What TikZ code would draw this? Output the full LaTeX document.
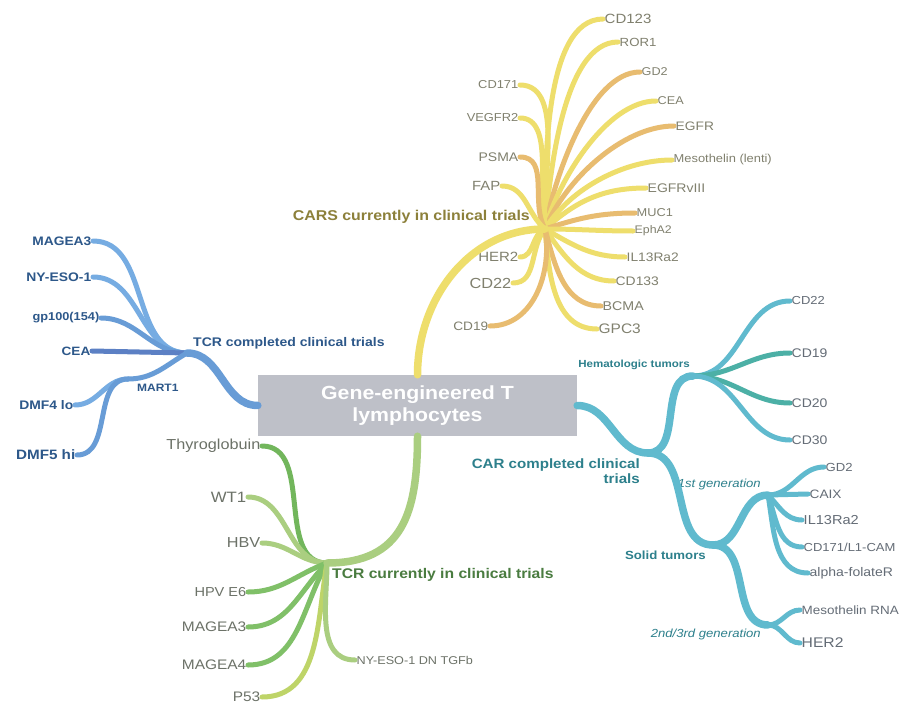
\documentclass[tikz,border=0pt]{standalone}
\usepackage{fontspec}
\setmainfont{Liberation Sans}[FakeStretch=1.12]
\definecolor{yl}{RGB}{238,222,108}
\definecolor{yo}{RGB}{232,188,112}
\definecolor{ytx}{RGB}{128,128,110}
\definecolor{ylab}{RGB}{140,128,58}
\definecolor{bl1}{RGB}{118,172,226}
\definecolor{bl2}{RGB}{104,156,214}
\definecolor{bl3}{RGB}{92,128,196}
\definecolor{btx}{RGB}{45,88,138}
\definecolor{tl}{RGB}{96,186,206}
\definecolor{tg}{RGB}{76,176,166}
\definecolor{tlab}{RGB}{45,128,140}
\definecolor{ttx}{RGB}{100,108,118}
\definecolor{gd}{RGB}{114,182,92}
\definecolor{gm}{RGB}{128,192,104}
\definecolor{gl}{RGB}{170,206,128}
\definecolor{gy}{RGB}{190,212,104}
\definecolor{glab}{RGB}{74,124,64}
\definecolor{gtx}{RGB}{108,114,104}
\definecolor{boxc}{RGB}{190,192,200}
\tikzset{
  fs/.style={font=\fontsize{#1}{#1}\selectfont},
  br/.style={line width=5pt, line cap=round},
  trunk/.style={line width=7.5pt, line cap=round},
  leafL/.style={inner sep=1.5pt, anchor=east},
  leafR/.style={inner sep=1.5pt, anchor=west},
  hubl/.style={inner sep=1pt, font=\bfseries},
}
\begin{document}
\begin{tikzpicture}[x=1pt,y=-1pt]
\useasboundingbox (0,0) rectangle (899,706);
\clip (0,0) rectangle (899,706);
\fill[white] (0,0) rectangle (899,706);

% hubs
\coordinate (yh) at (545,229);
\coordinate (bh) at (187,353);
\coordinate (mh) at (128,379);
\coordinate (gh) at (327,563);
\coordinate (th) at (648,453);
\coordinate (hh) at (693,376);
\coordinate (sh) at (713,545);
\coordinate (fh) at (768,495);
\coordinate (nh) at (768,625);

% center box
\node[fill=boxc, minimum width=319pt, minimum height=61pt, align=center,
      text=white, font=\fontsize{19}{22}\selectfont\bfseries] (center) at (417.5,405.5)
      {Gene-engineered T\\lymphocytes};

% ---------------- yellow: CARS currently ----------------
\begin{scope}[text=ytx]
\node[leafR,fs=13.4] (cd123) at (603,19) {CD123};
\node[leafR,fs=11.8] (ror1) at (618,42) {ROR1};
\node[leafR,fs=11.3] (gd2y) at (640,72) {GD2};
\node[leafR,fs=11.3] (ceay) at (656,101) {CEA};
\node[leafR,fs=12.3] (egfr) at (674,126) {EGFR};
\node[leafR,fs=11.5] (meso) at (672,160) {Mesothelin (lenti)};
\node[leafR,fs=12.5] (egfrv) at (646,188) {EGFRvIII};
\node[leafR,fs=11.4] (muc1) at (635,213) {MUC1};
\node[leafR,fs=11] (epha2) at (633,231) {EphA2};
\node[leafR,fs=12.3] (il13y) at (625,257) {IL13Ra2};
\node[leafR,fs=12.4] (cd133) at (614,281) {CD133};
\node[leafR,fs=12.7] (bcma) at (601,306) {BCMA};
\node[leafR,fs=13.8] (gpc3) at (597,329) {GPC3};
\node[leafL,fs=11.5] (cd171) at (520,85) {CD171};
\node[leafL,fs=11.5] (vegfr) at (520,118) {VEGFR2};
\node[leafL,fs=12.5] (psma) at (520,157) {PSMA};
\node[leafL,fs=13.3] (fap) at (502,186) {FAP};
\node[leafL,fs=13.4] (her2y) at (520,257) {HER2};
\node[leafL,fs=14.6] (cd22y) at (513,283) {CD22};
\node[leafL,fs=12.2] (cd19y) at (490,326) {CD19};
\end{scope}
\node[hubl, anchor=east, text=ylab, fs=14.2] at (531,217) {\bfseries CARS currently in clinical trials};

\draw[br,yl] (yh) to[out=90,in=180,looseness=0.7] (cd123.west);
\draw[br,yl] (yh) to[out=85,in=180,looseness=0.7] (ror1.west);
\draw[br,yo] (yh) to[out=80,in=180,looseness=0.7] (gd2y.west);
\draw[br,yl] (yh) to[out=75,in=180,looseness=0.75] (ceay.west);
\draw[br,yo] (yh) to[out=68,in=180,looseness=0.8] (egfr.west);
\draw[br,yl] (yh) to[out=58,in=180,looseness=0.85] (meso.west);
\draw[br,yl] (yh) to[out=42,in=180] (egfrv.west);
\draw[br,yo] (yh) to[out=18,in=180] (muc1.west);
\draw[br,yl] (yh) to[out=0,in=180] (epha2.west);
\draw[br,yl] (yh) to[out=-30,in=180] (il13y.west);
\draw[br,yl] (yh) to[out=-55,in=180] (cd133.west);
\draw[br,yo] (yh) to[out=-75,in=180] (bcma.west);
\draw[br,yl] (yh) to[out=-85,in=180] (gpc3.west);
\draw[br,yl] (yh) to[out=95,in=0,looseness=0.8] (cd171.east);
\draw[br,yl] (yh) to[out=105,in=0,looseness=0.8] (vegfr.east);
\draw[br,yo] (yh) to[out=120,in=0] (psma.east);
\draw[br,yl] (yh) to[out=140,in=0] (fap.east);
\draw[br,yl] (yh) to[out=200,in=0] (her2y.east);
\draw[br,yl] (yh) to[out=230,in=0] (cd22y.east);
\draw[br,yo] (yh) to[out=-80,in=0] (cd19y.east);
\draw[trunk,yl] (center.north) to[out=90,in=180] (yh);

% ---------------- blue: TCR completed ----------------
\begin{scope}[text=btx, font=\bfseries]
\node[leafL,fs=12.3] (mageab) at (93,241) {\bfseries MAGEA3};
\node[leafL,fs=12.4] (nyeso) at (93,277) {\bfseries NY-ESO-1};
\node[leafL,fs=11.4] (gp100) at (101,318) {\bfseries gp100(154)};
\node[leafL,fs=12.1] (ceab) at (92,351) {\bfseries CEA};
\node[leafL,fs=12.4] (dmf4) at (75,405) {\bfseries DMF4 lo};
\node[leafL,fs=13.6] (dmf5) at (77,455) {\bfseries DMF5 hi};
\end{scope}
\node[hubl, anchor=west, text=btx, fs=12.5] at (192,343) {\bfseries TCR completed clinical trials};
\node[hubl, anchor=west, text=btx, fs=10.7] at (136,388) {\bfseries MART1};

\draw[br,bl1] (bh) to[out=180,in=0] (mageab.east);
\draw[br,bl1] (bh) to[out=180,in=0] (nyeso.east);
\draw[br,bl2] (bh) to[out=180,in=0] (gp100.east);
\draw[br,bl3] (bh) -- (ceab.east);
\draw[br,bl2] (bh) to[out=210,in=0] (mh);
\draw[br,bl1] (mh) to[out=180,in=0] (dmf4.east);
\draw[br,bl2] (mh) to[out=180,in=0] (dmf5.east);
\draw[trunk,bl2] (center.west) to[out=180,in=0] (bh);

% ---------------- green: TCR currently ----------------
\begin{scope}[text=gtx]
\node[leafL,fs=14.5] (thyro) at (262,446) {Thyroglobuin};
\node[leafL,fs=15] (wt1) at (248,497) {WT1};
\node[leafL,fs=14.5] (hbv) at (262,543) {HBV};
\node[leafL,fs=13] (hpv) at (248,592) {HPV E6};
\node[leafL,fs=13.8] (mag3) at (248,627) {MAGEA3};
\node[leafL,fs=13.8] (mag4) at (248,665) {MAGEA4};
\node[leafL,fs=13.8] (p53) at (262,697) {P53};
\node[leafR,fs=11.3] (nytgf) at (355,660) {NY-ESO-1 DN TGFb};
\end{scope}
\node[hubl, anchor=west, text=glab, fs=14] at (331,575) {\bfseries TCR currently in clinical trials};

\draw[br,gd] (gh) to[out=180,in=0] (thyro.east);
\draw[br,gl] (gh) to[out=180,in=0] (wt1.east);
\draw[br,gl] (gh) to[out=180,in=0] (hbv.east);
\draw[br,gm] (gh) to[out=200,in=0] (hpv.east);
\draw[br,gm] (gh) to[out=225,in=0] (mag3.east);
\draw[br,gm] (gh) to[out=240,in=0] (mag4.east);
\draw[br,gy] (gh) to[out=-100,in=0] (p53.east);
\draw[br,gl] (gh) to[out=-90,in=180] (nytgf.west);
\draw[trunk,gl] (center.south) to[out=-90,in=0,looseness=1.25] (gh);

% ---------------- teal: CAR completed ----------------
\begin{scope}[text=ttx]
\node[leafR,fs=11.6] (cd22t) at (790,301) {CD22};
\node[leafR,fs=12.5] (cd19t) at (790,353) {CD19};
\node[leafR,fs=12.5] (cd20t) at (790,403) {CD20};
\node[leafR,fs=12.5] (cd30t) at (790,440) {CD30};
\node[leafR,fs=11.7] (gd2t) at (824,467) {GD2};
\node[leafR,fs=12.2] (caix) at (808,494) {CAIX};
\node[leafR,fs=13] (il13t) at (802,520) {IL13Ra2};
\node[leafR,fs=11.6] (l1cam) at (802,547) {CD171/L1-CAM};
\node[leafR,fs=12.5] (afr) at (808,573) {alpha-folateR};
\node[leafR,fs=12] (mrna) at (800,610) {Mesothelin RNA};
\node[leafR,fs=14] (her2t) at (800,643) {HER2};
\end{scope}
\node[hubl, anchor=east, align=right, text=tlab, font=\fontsize{13.5}{15}\selectfont\bfseries] at (641,471) {CAR completed clinical\\trials};
\node[hubl, anchor=east, text=tlab, fs=10.3] at (691,365) {\bfseries Hematologic tumors};
\node[hubl, anchor=east, text=tlab, fs=11.8] at (707,555) {\bfseries Solid tumors};
\node[hubl, anchor=east, text=tlab, fs=11.7] at (762,484) {\itshape\mdseries 1st generation};
\node[hubl, anchor=east, text=tlab, fs=11.7] at (762,634) {\itshape\mdseries 2nd/3rd generation};

\draw[br,tl] (hh) to[out=0,in=180] (cd22t.west);
\draw[br,tg] (hh) to[out=0,in=180] (cd19t.west);
\draw[br,tg] (hh) to[out=0,in=180] (cd20t.west);
\draw[br,tl] (hh) to[out=0,in=180] (cd30t.west);
\draw[br,tl] (fh) to[out=0,in=180] (gd2t.west);
\draw[br,tl] (fh) -- (caix.west);
\draw[br,tl] (fh) to[out=-45,in=180] (il13t.west);
\draw[br,tl] (fh) to[out=-70,in=180] (l1cam.west);
\draw[br,tl] (fh) to[out=-80,in=180] (afr.west);
\draw[br,tl] (nh) to[out=0,in=180] (mrna.west);
\draw[br,tl] (nh) to[out=0,in=180] (her2t.west);
\draw[trunk,tl] (sh) to[out=0,in=180] (fh);
\draw[trunk,tl] (sh) to[out=0,in=180] (nh);
\draw[trunk,tl] (th) to[out=0,in=180] (hh);
\draw[trunk,tl] (th) to[out=0,in=180] (sh);
\draw[trunk,tl] (center.east) to[out=0,in=180] (th);
\end{tikzpicture}
\end{document}
